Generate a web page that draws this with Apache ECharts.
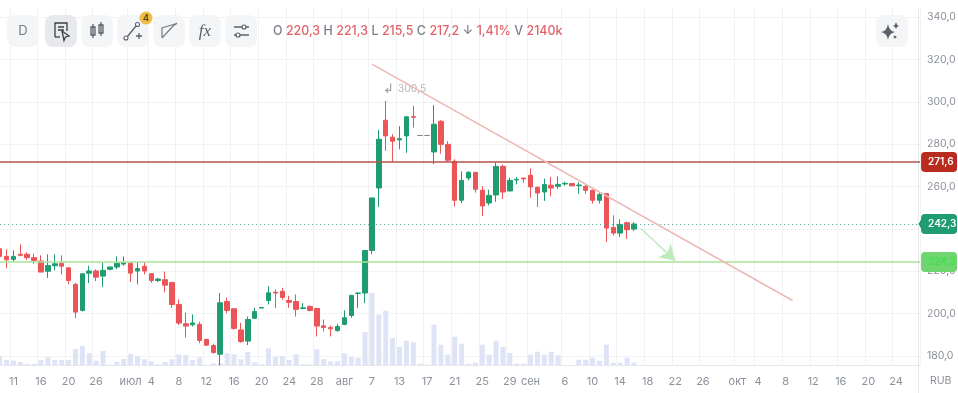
<!DOCTYPE html>
<html><head><meta charset="utf-8">
<style>html,body{margin:0;padding:0;background:#fff}#c{width:958px;height:393px}</style>
<script src="https://cdn.jsdelivr.net/npm/echarts@6/dist/echarts.min.js"></script>
</head><body><div id="c"></div>
<script>
// [open, close, low, high]
const ohlc = [
[230.6,227.0,222.7,233.8],[227.0,225.4,221.5,230.3],[225.6,227.0,224.3,229.8],[228.0,227.5,227.0,232.7],[228.0,226.4,225.4,228.9],
[226.4,225.1,223.5,228.3],[224.8,219.6,219.6,227.5],[220.0,222.7,216.8,228.0],[222.6,223.5,220.4,228.0],[223.8,222.4,218.5,227.5],
[221.6,215.6,213.8,221.6],[213.8,200.7,197.8,214.5],[201.5,218.8,201.0,218.8],[219.1,220.1,214.4,222.6],[220.1,217.2,215.3,220.9],
[217.7,220.4,212.5,224.0],[220.9,222.0,220.4,222.3],[222.0,223.8,221.0,227.0],[223.4,224.0,222.6,227.0],[223.8,219.1,214.9,224.3],
[220.1,221.3,213.8,224.3],[222.3,220.1,218.5,224.3],[218.8,215.6,214.5,219.1],[215.6,216.3,214.9,216.9],[216.0,213.4,210.0,219.8],
[214.7,204.3,202.7,214.7],[204.3,195.5,194.7,206.7],[195.2,194.1,188.7,200.4],[194.7,195.6,193.9,199.6],[194.9,187.3,186.0,196.1],
[187.8,185.1,184.9,188.1],[184.9,181.6,181.0,185.7],[180.8,205.1,175.5,209.7],[205.7,201.5,200.2,207.5],[202.3,193.0,192.5,202.3],
[192.3,186.8,186.2,195.6],[187.0,197.2,185.1,198.6],[197.8,201.0,197.5,202.7],[202.6,202.9,202.6,202.9],[206.2,209.8,204.3,213.0],
[210.1,209.7,202.7,211.4],[210.5,207.6,206.5,212.2],[206.2,205.3,202.7,208.4],[205.7,202.0,198.6,209.0],[202.4,202.7,202.0,204.9],
[203.4,201.5,201.0,203.8],[202.4,194.1,189.2,202.7],[194.2,193.4,191.5,197.2],[193.4,192.8,189.2,194.4],[192.0,193.9,191.4,195.2],
[194.9,198.0,194.5,201.5],[199.1,208.6,198.0,208.6],[209.5,209.7,202.7,210.1],[209.7,229.8,204.9,229.8],[229.8,254.6,228.0,254.6],
[259.3,282.3,250.3,286.6],[291.3,283.9,276.8,300.4],[283.3,281.4,271.6,284.7],[282.0,282.6,277.6,288.5],[283.9,292.9,275.9,293.2],
[293.0,292.7,287.8,298.1],[284.1,284.1,284.1,284.1],[284.1,284.1,284.1,284.1],[276.3,289.4,270.5,298.4],[290.8,279.9,275.5,291.3],
[279.9,272.4,271.6,281.4],[271.9,253.5,250.6,272.9],[253.5,262.9,252.2,267.2],[264.0,266.7,262.9,267.2],[266.7,258.7,257.1,266.7],
[258.2,250.8,246.1,260.1],[252.2,255.8,251.1,258.5],[256.0,269.5,252.8,271.4],[269.5,257.4,254.1,270.3],[257.9,262.9,257.7,264.2],
[263.1,263.4,261.0,264.5],[264.0,263.6,261.8,264.0],[265.3,259.8,254.7,268.5],[259.6,256.9,250.3,260.1],[257.4,260.9,253.2,263.7],
[260.6,259.3,255.4,264.5],[260.1,261.0,259.0,264.7],[261.2,261.5,260.4,262.3],[261.4,260.3,260.3,261.4],[260.4,260.7,256.6,262.0],
[260.1,258.2,256.6,260.9],[258.2,253.5,251.9,258.5],[253.5,256.2,251.9,257.1],[256.6,240.4,233.8,256.9],[240.6,238.0,236.9,246.4],
[238.0,242.1,236.1,244.5],[242.9,239.6,235.2,243.4],[239.9,242.3,239.0,243.1]
];
const volumes = [900,500,430,300,100,100,500,770,500,500,500,1600,1900,1170,430,1400,30,330,600,1100,900,570,370,70,300,570,1070,1000,500,770,30,170,170,1170,1070,570,1300,270,70,1670,800,900,500,1070,70,70,1570,600,370,370,1170,800,700,3300,7200,5030,5430,2700,1800,2430,2270,130,30,4030,2030,1030,2830,2130,130,230,2030,1030,2430,1800,1200,130,130,1030,1330,1030,1330,970,0,0,530,530,730,430,2030,230,230,730,230];
const tickIndex  = [2,6,10,14,19,22,26,30,34,38,42,46,50,54,58,62,66,70,74,77,82,86,90,94,98,102,107,110,114,118,122,126,130];
const tickLabels = ['11','16','20','26','июл','4','8','12','16','20','24','28','авг','7','13','17','21','25','29','сен','6','10','14','18','22','26','окт','4','8','12','16','20','24'];
const candleSlots = 134;
const levelRed = 271.6, levelLast = 242.3, levelGreen = 224.3, peak = 300.5;
const trendFrom = [54, 317.8], trendTo = [115, 206.2];
const arrowFrom = [93, 240.2], arrowTo = [98.4, 225];

const categories = Array.from({length:candleSlots}, () => '');
tickIndex.forEach((t,i) => { categories[t] = tickLabels[i]; });
const comma = v => v.toFixed(1).replace('.',',');

const GREEN='#1f9d70', RED='#ec5558', AXIS='#8b909a', GRID='#f1f2f4', FONT='Inter, Roboto, sans-serif';
const band = 6.895, gridLeft = -3.84, gridW = band*candleSlots;
const isTick = (i,v) => v !== '';

function btn(x,fill){return {type:'rect',shape:{x:x,y:15,width:32,height:32,r:8},style:{fill:fill||'#f4f5f7'},z:5};}
const ic='#5b606a';
let iconCount=0;
function icon(d,extra){
  const name='tbIcon'+(iconCount++);
  echarts.graphic.registerShape(name,echarts.graphic.extendPath(d,{}));
  return {type:name,shape:{},style:Object.assign({fill:'none',stroke:ic,lineWidth:1.3},extra||{}),z:6};
}

const graphicEls = [
 btn(7),btn(45,'#e8e9ed'),btn(81),btn(117),btn(153),btn(189),btn(225),btn(876),
 {type:'text',x:23,y:31,style:{text:'D',font:'13px '+FONT,fill:'#777c86',align:'center',verticalAlign:'middle'},z:6},
 icon('M55 37 V23 H67 V31 M58 27 H64 M58 30 H64',{stroke:'#3c4048'}),
 icon('M55 37 H60',{stroke:'#3c4048'}),
 icon('M62 31 L69 36 L65.5 37 L64 40.5 Z',{stroke:'#3c4048'}),
 icon('M93 24 V38 M101 22 V36 M91 27 H95 V35 H91 Z M99 25 H103 V33 H99 Z'),
 icon('M127 37 L136 26'),
 {type:'circle',shape:{cx:126,cy:38,r:2},style:{fill:'#fff',stroke:ic,lineWidth:1.1},z:6},
 {type:'circle',shape:{cx:137.5,cy:24.5,r:2},style:{fill:'#fff',stroke:ic,lineWidth:1.1},z:6},
 icon('M136 36 H142 M139 33 V39'),
 {type:'circle',shape:{cx:146,cy:18,r:6.5},style:{fill:'#f2bb45'},z:7},
 {type:'text',x:146,y:18,style:{text:'4',font:'bold 9px '+FONT,fill:'#5a4a1a',align:'center',verticalAlign:'middle'},z:8},
 icon('M162 38 V28 L175 24 L162 38 M177 23 L175 25',{stroke:'#7d828c'}),
 {type:'text',x:205,y:32,style:{text:'fx',font:'italic 17px "Liberation Serif", serif',fill:ic,align:'center',verticalAlign:'middle'},z:6},
 icon('M234 27 H249 M234 35 H249'),
 {type:'circle',shape:{cx:244,cy:27,r:2},style:{fill:'#fff',stroke:ic,lineWidth:1.2},z:6},
 {type:'circle',shape:{cx:238,cy:35,r:2},style:{fill:'#fff',stroke:ic,lineWidth:1.2},z:6},
 icon('M888 24 Q889 31 895 32 Q889 33 888 40 Q887 33 881 32 Q887 31 888 24 Z M896 22 Q896.5 25 899 26 Q896.5 26.5 896 29 Q895.5 26.5 893 26 Q895.5 25 896 22 Z M895 35 Q895.3 36.7 897 37 Q895.3 37.4 895 39 Q894.7 37.4 893 37 Q894.7 36.7 895 35 Z',{fill:ic,stroke:'none'}),
 {type:'text',x:273,y:31,style:{
   text:'{l|O} {v|220,3} {l|H} {v|221,3} {l|L} {v|215,5} {l|C} {v|217,2} {l|↓} {v|1,41%} {l|V} {v|2140k}',
   verticalAlign:'middle',font:'12.4px '+FONT,
   rich:{l:{fill:'#7a7f89',font:'500 12.4px '+FONT},v:{fill:'#e0646a',font:'500 12.4px '+FONT}}},z:6},
 {type:'text',x:930,y:381,style:{text:'RUB',font:'10.5px '+FONT,fill:AXIS,verticalAlign:'middle'},z:6},
 {type:'line',shape:{x1:918.5,y1:8,x2:918.5,y2:393},style:{stroke:'#e6e7ea',lineWidth:1},z:1},
 {type:'polygon',shape:{points:[[922,218],[922,230],[918.5,224]]},style:{fill:GREEN},z:50}
];

const tag = (bg,fg) => ({show:true,position:'end',distance:1,formatter:p=>comma(p.value),backgroundColor:bg,color:fg,
  fontFamily:FONT,fontSize:10,fontWeight:600,padding:[5,7,5,7],borderRadius:4,width:22,align:'left'});

const chart = echarts.init(document.getElementById('c'),null,{renderer:'canvas'});
chart.setOption({
 animation:false,
 textStyle:{fontFamily:FONT},
 graphic:{elements:graphicEls},
 grid:[
  {left:gridLeft,width:gridW,top:-25.3,height:423.6,outerBoundsMode:'none'},
  {left:gridLeft,width:gridW,top:8,height:357,outerBoundsMode:'none'}
 ],
 xAxis:[
  {type:'category',gridIndex:0,data:categories,show:false,boundaryGap:true},
  {type:'category',gridIndex:1,data:categories,boundaryGap:true,
   axisLine:{show:true,lineStyle:{color:'#e6e7ea'}},axisTick:{show:false},
   axisLabel:{interval:isTick,color:AXIS,fontSize:11,margin:11,fontFamily:FONT,hideOverlap:false},
   splitLine:{show:true,interval:isTick,lineStyle:{color:GRID}}}
 ],
 yAxis:[
  {type:'value',gridIndex:0,position:'right',offset:-2.1,min:160,max:360,interval:20,
   axisLine:{show:false},axisTick:{show:false},
   axisLabel:{color:AXIS,fontSize:10.5,margin:9,fontFamily:FONT,formatter:comma},
   splitLine:{show:true,lineStyle:{color:GRID}}},
  {type:'value',gridIndex:1,min:0,max:35700,show:false,splitLine:{show:false}}
 ],
 series:[
  {type:'bar',name:'Volume',xAxisIndex:1,yAxisIndex:1,data:volumes,barWidth:5,itemStyle:{color:'#dfe3f6'},z:1,silent:true},
  {type:'candlestick',name:'Price',xAxisIndex:0,yAxisIndex:0,data:ohlc,barWidth:5,z:3,
   itemStyle:{color:GREEN,color0:RED,borderColor:GREEN,borderColor0:RED,borderColorDoji:'#85888f',borderWidth:1},
   markLine:{silent:true,symbol:'none',animation:false,precision:1,z:20,
    data:[
     {yAxis:levelRed,lineStyle:{color:'#b85549',width:1.5,type:'solid'},label:tag('#b92b1f','#fff')},
     {yAxis:levelLast,lineStyle:{color:'#3fa58a',width:1.2,type:[1,3]},label:tag(GREEN,'#fff')},
     {yAxis:levelGreen,lineStyle:{color:'#a9e29a',width:1.5,type:'solid'},label:tag('#6fd56f','#3fe24a')},
     [{coord:trendFrom,lineStyle:{color:'#eeb9b5',width:1.6,type:'solid'},label:{show:false}},{coord:trendTo}],
     [{coord:arrowFrom,symbol:'none',lineStyle:{color:'#bfe9bf',width:1.5,type:'solid'},label:{show:false}},
      {coord:arrowTo,symbol:'arrow',symbolSize:[14,15]}]
    ]},
   markPoint:{silent:true,animation:false,symbol:'circle',symbolSize:0,
    data:[{coord:[56,peak],value:peak,label:{show:true,position:'right',offset:[-8,-12],formatter:p=>'{a|↲} '+comma(p.value),color:'#b3b7bf',fontSize:10.5,fontFamily:FONT,rich:{a:{fontSize:13,color:'#9a9ea6',padding:[0,1,0,0]}}}}]}
  }
 ]
});
</script></body></html>
